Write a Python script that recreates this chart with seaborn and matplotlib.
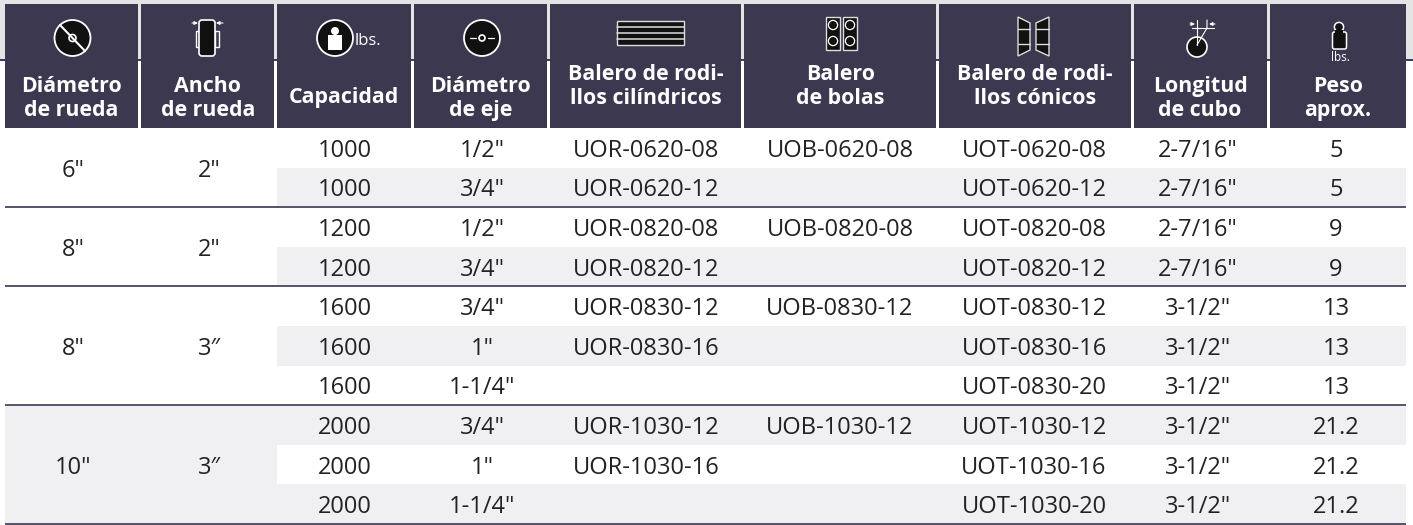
import numpy as np
import seaborn as sns
import matplotlib.pyplot as plt
from matplotlib.colors import ListedColormap
from matplotlib.patches import Rectangle, Circle, FancyBboxPatch, Polygon

sns.set_theme(style='white')
plt.rcParams['font.family'] = ['Open Sans', 'Noto Sans', 'DejaVu Sans']

# table values
wheel_diam = ['6"', '8"', '8"', '10"']
wheel_width = ['2"', '2"', '3″', '3″']
group_sizes = [2, 2, 3, 3]
capacity = [1000, 1000, 1200, 1200, 1600, 1600, 1600, 2000, 2000, 2000]
axle = ['1/2"', '3/4"', '1/2"', '3/4"', '3/4"', '1"', '1-1/4"', '3/4"', '1"', '1-1/4"']
roller = ['UOR-0620-08', 'UOR-0620-12', 'UOR-0820-08', 'UOR-0820-12', 'UOR-0830-12',
          'UOR-0830-16', '', 'UOR-1030-12', 'UOR-1030-16', '']
ball = ['UOB-0620-08', '', 'UOB-0820-08', '', 'UOB-0830-12', '', '', 'UOB-1030-12', '', '']
tapered = ['UOT-0620-08', 'UOT-0620-12', 'UOT-0820-08', 'UOT-0820-12', 'UOT-0830-12',
           'UOT-0830-16', 'UOT-0830-20', 'UOT-1030-12', 'UOT-1030-16', 'UOT-1030-20']
hub = ['2-7/16"', '2-7/16"', '2-7/16"', '2-7/16"', '3-1/2"', '3-1/2"', '3-1/2"', '3-1/2"', '3-1/2"', '3-1/2"']
weight = ['5', '5', '9', '9', '13', '13', '13', '21.2', '21.2', '21.2']
headers = [['Diámetro', 'de rueda'], ['Ancho', 'de rueda'], ['Capacidad'], ['Diámetro', 'de eje'],
           ['Balero de rodi-', 'llos cilíndricos'], ['Balero', 'de bolas'],
           ['Balero de rodi-', 'llos cónicos'], ['Longitud', 'de cubo'], ['Peso', 'aprox.']]
header_base = [[92, 116], [92, 116], [103], [92, 116], [80, 104], [80, 104], [80, 104], [92, 116], [92, 116]]
col_units = [7, 7, 7, 7, 10, 10, 10, 7, 7]
body_x = [73, 209, 345, 482, 646, 840, 1034, 1198, 1336]
row_stripe = [0, 1, 0, 1, 0, 1, 0, 1, 0, 1]
merged_stripe = [0, 0, 0, 0, 0, 0, 0, 1, 1, 1]

NAVY = '#3b3850'
GREY = '#f0f0f2'
W, H = 1413, 525
TOP, BOTTOM, LEFT, RIGHT = 128, 524, 5, 1406

fig = plt.figure(figsize=(W / 100, H / 100), dpi=100, facecolor='white')

# backdrop behind the header
bg = fig.add_axes([0, 0, 1, 1], zorder=0)
bg.set_xlim(0, W)
bg.set_ylim(H, 0)
bg.axis('off')
bg.add_patch(Rectangle((0, 0), W, 60, color='#e4e4e4', lw=0))
bg.add_patch(Rectangle((0, 59), W, 2, color='#2f4163', lw=0))

# stripes: one heatmap cell per width unit so the columns can differ
merged_units = sum(col_units[:2])
shade = np.array([[m] * merged_units + [s] * (sum(col_units) - merged_units)
                  for m, s in zip(merged_stripe, row_stripe)])
ax = fig.add_axes([LEFT / W, 1 - BOTTOM / H, (RIGHT - LEFT) / W, (BOTTOM - TOP) / H], zorder=1)
sns.heatmap(shade, ax=ax, cbar=False, cmap=ListedColormap(['white', GREY]), vmin=0, vmax=1,
            xticklabels=False, yticklabels=False)

edges = np.cumsum([0] + col_units)
px = (RIGHT - LEFT) / edges[-1]
centers = [(x - LEFT) / px for x in body_x]
body_kw = dict(ha='center', va='center_baseline', fontsize=17, color='#222222')

start = 0
for d, w, n in zip(wheel_diam, wheel_width, group_sizes):
    ax.text(centers[0], start + n / 2, d, **body_kw)
    ax.text(centers[1], start + n / 2, w, **body_kw)
    start += n
    ax.hlines(start, 0, edges[-1], color='#55536a', lw=1.4, clip_on=False)

for c, col in enumerate([capacity, axle, roller, ball, tapered, hub, weight]):
    for r, val in enumerate(col):
        ax.text(centers[c + 2], r + 0.5, str(val), **body_kw)

# header cells and icons, in pixels
top = fig.add_axes([0, 0, 1, 1], zorder=2)
top.set_xlim(0, W)
top.set_ylim(H, 0)
top.axis('off')
top.patch.set_alpha(0)

for i, lines in enumerate(headers):
    x0 = LEFT + edges[i] * px
    x1 = LEFT + edges[i + 1] * px
    gap = 0 if i == len(headers) - 1 else 3
    top.add_patch(Rectangle((x0, 4), x1 - x0 - gap, TOP - 4, color=NAVY, lw=0))
    for line, base in zip(lines, header_base[i]):
        top.text((x0 + x1 - gap) / 2, base, line, ha='center', va='baseline', color='white',
                 fontsize=15.4, fontweight='bold')

INK = '#111111'
def round_icon(x, y, r=18):
    top.add_patch(Circle((x, y), r, fc=INK, ec='white', lw=1.3))

def arrow(x_to, x_from, y):
    top.annotate('', (x_to, y), (x_from, y),
                 arrowprops=dict(arrowstyle='-|>', color='white', lw=0.8, mutation_scale=5,
                                 shrinkA=0, shrinkB=0))

# wheel diameter
round_icon(72.5, 38)
top.plot([60, 85], [25, 51], color='white', lw=1.5)
top.add_patch(Circle((72.5, 38), 3.5, fc=INK, ec='white', lw=1.2))
# wheel width
top.add_patch(Rectangle((195.5, 31), 4, 16, fc='none', ec='white', lw=1))
top.add_patch(Rectangle((215, 31), 4, 16, fc='none', ec='white', lw=1))
top.add_patch(FancyBboxPatch((199, 20), 16, 36, boxstyle='round,pad=0,rounding_size=3', fc=INK, ec='white', lw=1.2))
arrow(198, 192, 23)
arrow(216, 223, 23)
# capacity
round_icon(335, 38)
top.add_patch(Rectangle((328, 35), 14, 15, fc='white', lw=0))
top.add_patch(Circle((335, 31), 4, fc='white', lw=0))
top.text(354.5, 45, 'lbs.', color='white', fontsize=12, ha='left', va='baseline')
# axle diameter
round_icon(482, 38)
top.add_patch(Circle((482, 38), 3, fc=INK, ec='white', lw=1.2))
top.plot([470, 476], [38, 38], color='white', lw=0.9)
top.plot([488, 494], [38, 38], color='white', lw=0.9)
# cylindrical roller bearing
top.add_patch(Rectangle((617, 21), 67, 24, fc=INK, ec='#dddddd', lw=1))
for yy in (26.5, 33, 39):
    top.plot([617, 684], [yy, yy], color='#dddddd', lw=1.1)
# ball bearing
for xx in (826, 843):
    top.add_patch(Rectangle((xx, 17), 14, 33, fc=INK, ec='#dddddd', lw=1))
    for yy in (25, 41):
        top.add_patch(Circle((xx + 7, yy), 4.6, fc=INK, ec='white', lw=0.9))
# tapered roller bearing
top.add_patch(Polygon([(1018, 17), (1030, 23), (1030, 50), (1018, 56)], fc=INK, ec='#dddddd', lw=1))
top.add_patch(Polygon([(1049, 17), (1036, 23), (1036, 50), (1049, 56)], fc=INK, ec='#dddddd', lw=1))
for xa, xb in ((1018, 1030), (1036, 1049)):
    top.plot([xa, xb], [29, 29], color='#dddddd', lw=1)
    top.plot([xa, xb], [44, 44], color='#dddddd', lw=1)
# hub length
top.add_patch(Circle((1197, 47), 10, fc=INK, ec='white', lw=1.2))
top.plot([1192, 1214], [28, 28], color='white', lw=0.8)
top.plot([1197, 1197], [20, 45], color='white', lw=0.8)
top.plot([1207, 1207, 1197], [20, 28, 45], color='white', lw=0.8)
arrow(1195, 1190, 24)
arrow(1209, 1215, 24)
# weight
top.add_patch(FancyBboxPatch((1332.5, 32), 14, 17, boxstyle='round,pad=0,rounding_size=2', fc=INK, ec='white', lw=1.1))
top.add_patch(Circle((1339, 27), 4.6, fc=INK, ec='white', lw=1.1))
top.add_patch(Rectangle((1335, 30), 8, 5, fc=INK, lw=0))
top.text(1331, 61, 'lbs.', color='white', fontsize=8.5, ha='left', va='baseline')

fig.savefig('out.png', dpi=100, facecolor='white')
